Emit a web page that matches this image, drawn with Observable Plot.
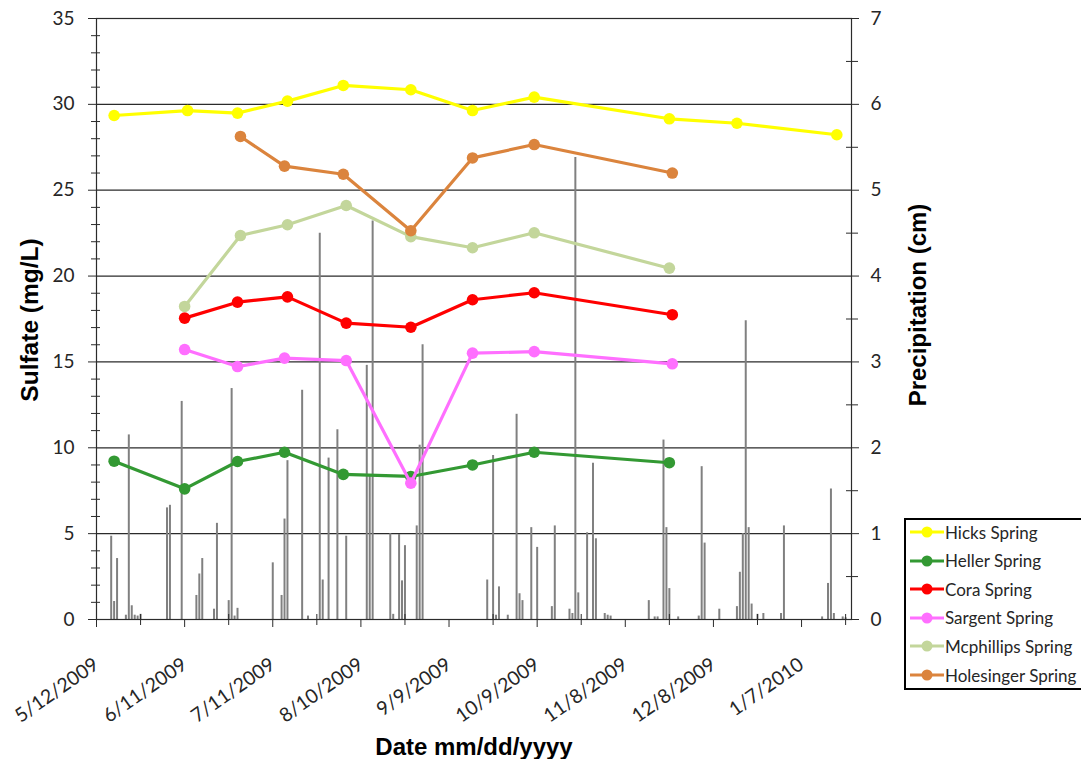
<!DOCTYPE html>
<html>
<head>
<meta charset="utf-8">
<script src="https://cdn.jsdelivr.net/npm/d3@7"></script>
<script src="https://cdn.jsdelivr.net/npm/@observablehq/plot@0.6"></script>
<style>
  html, body { margin: 0; padding: 0; background: #fff; }
  #wrap { position: relative; width: 1081px; height: 759px; overflow: hidden; }
  #legend { position: absolute; left: 904px; top: 518px; width: 190px; height: 172px;
    border: 2px solid #000; box-sizing: border-box; background: #fff;
    font-family: Lato, "Open Sans", sans-serif; font-size: 17px; color: #262626; }
  .row { position: absolute; left: 2px; height: 20px; display: flex; align-items: center; }
  .row svg { margin-right: 1px; }
</style>
</head>
<body>
<div id="wrap"><div id="chart"></div><div id="legend"></div></div>
<script>
// ---- Data ----
const seriesNames = ["Hicks Spring", "Heller Spring", "Cora Spring", "Sargent Spring", "Mcphillips Spring", "Holesinger Spring"];
const seriesColors = ["#FFFF00", "#339933", "#FF0000", "#FF6FFF", "#C3D69B", "#DB843D"];

const hicksDates = ["2009-05-18","2009-06-12","2009-06-29","2009-07-16","2009-08-04","2009-08-27","2009-09-17","2009-10-08","2009-11-23","2009-12-16","2010-01-19"];
const hicksSulfate = [29.35, 29.64, 29.49, 30.19, 31.1, 30.85, 29.64, 30.42, 29.16, 28.9, 28.23];

const hellerDates = ["2009-05-18","2009-06-11","2009-06-29","2009-07-15","2009-08-04","2009-08-27","2009-09-17","2009-10-08","2009-11-23"];
const hellerSulfate = [9.22, 7.61, 9.2, 9.74, 8.45, 8.33, 9.0, 9.74, 9.13];

const coraDates = ["2009-06-11","2009-06-29","2009-07-16","2009-08-05","2009-08-27","2009-09-17","2009-10-08","2009-11-24"];
const coraSulfate = [17.55, 18.48, 18.79, 17.26, 17.02, 18.62, 19.03, 17.75];

const sargentDates = ["2009-06-11","2009-06-29","2009-07-15","2009-08-05","2009-08-27","2009-09-17","2009-10-08","2009-11-24"];
const sargentSulfate = [15.72, 14.73, 15.22, 15.08, 7.94, 15.51, 15.6, 14.89];

const mcphillipsDates = ["2009-06-11","2009-06-30","2009-07-16","2009-08-05","2009-08-27","2009-09-17","2009-10-08","2009-11-23"];
const mcphillipsSulfate = [18.23, 22.36, 22.99, 24.11, 22.3, 21.65, 22.52, 20.46];

const holesingerDates = ["2009-06-30","2009-07-15","2009-08-04","2009-08-27","2009-09-17","2009-10-08","2009-11-24"];
const holesingerSulfate = [28.13, 26.4, 25.93, 22.64, 26.88, 27.66, 26.0];

const precipDates = ["2009-05-17","2009-05-18","2009-05-19","2009-05-22","2009-05-23","2009-05-24","2009-05-25","2009-05-26","2009-05-27",
  "2009-06-05","2009-06-06","2009-06-10","2009-06-15","2009-06-16","2009-06-17","2009-06-21","2009-06-22","2009-06-26","2009-06-27","2009-06-28","2009-06-29",
  "2009-07-11","2009-07-14","2009-07-15","2009-07-16","2009-07-21","2009-07-23","2009-07-27","2009-07-28","2009-07-30",
  "2009-08-02","2009-08-05","2009-08-12","2009-08-13","2009-08-14","2009-08-20","2009-08-21","2009-08-23","2009-08-24","2009-08-25","2009-08-29","2009-08-30","2009-08-31",
  "2009-09-22","2009-09-24","2009-09-25","2009-09-26","2009-09-29",
  "2009-10-02","2009-10-03","2009-10-04","2009-10-07","2009-10-09","2009-10-14","2009-10-15","2009-10-20","2009-10-21","2009-10-22","2009-10-23","2009-10-26","2009-10-28","2009-10-29",
  "2009-11-01","2009-11-02","2009-11-03","2009-11-16","2009-11-18","2009-11-19","2009-11-21","2009-11-22","2009-11-23","2009-11-26",
  "2009-12-03","2009-12-04","2009-12-05","2009-12-10","2009-12-16","2009-12-17","2009-12-18","2009-12-19","2009-12-20","2009-12-21","2009-12-23","2009-12-25","2009-12-31",
  "2010-01-01","2010-01-14","2010-01-16","2010-01-17","2010-01-18","2010-01-21","2010-01-22"];
const precipCm = [0.97,0.21,0.71,0.05,2.15,0.16,0.05,0.04,0.06,
  1.30,1.33,2.54,0.28,0.53,0.71,0.12,1.12,0.22,2.69,0.04,0.13,
  0.66,0.28,1.17,1.85,2.67,0.04,4.50,0.46,1.88,
  2.21,0.97,2.96,1.68,4.64,1.00,0.06,0.99,0.45,0.86,1.09,2.03,3.20,
  0.46,1.91,0.05,0.38,0.05,
  2.39,0.30,0.22,1.07,0.84,0.15,1.09,0.12,0.07,5.38,0.31,1.01,1.82,0.94,
  0.07,0.05,0.04,0.22,0.03,0.03,2.09,1.07,0.36,0.03,
  0.04,1.78,0.89,0.12,0.15,0.55,1.00,3.48,1.07,0.18,0.06,0.07,0.07,
  1.09,0.03,0.42,1.52,0.07,0.03,0.02];

const xDomain = ["2009-05-12", "2010-01-24"];
const xTickLabels = ["5/12/2009","6/11/2009","7/11/2009","8/10/2009","9/9/2009","10/9/2009","11/8/2009","12/8/2009","1/7/2010"];
const xMinorTickLabels = ["5/27/2009","6/26/2009","7/26/2009","8/25/2009","9/24/2009","10/24/2009","11/23/2009","12/23/2009","1/22/2010"];
const sulfateTicks = [0, 5, 10, 15, 20, 25, 30, 35];
const precipTicks = [0, 1, 2, 3, 4, 5, 6, 7];
const precipPerSulfate = 7 / 35;

// ---- Build ----
const parseISO = d3.utcParse("%Y-%m-%d");
const parseMDY = d3.utcParse("%m/%d/%Y");
const fmtMDY = d3.utcFormat("%-m/%-d/%Y");

const dateLists = [hicksDates, hellerDates, coraDates, sargentDates, mcphillipsDates, holesingerDates];
const valueLists = [hicksSulfate, hellerSulfate, coraSulfate, sargentSulfate, mcphillipsSulfate, holesingerSulfate];
const sulfate = [];
seriesNames.forEach((name, i) => {
  dateLists[i].forEach((d, j) => sulfate.push({series: name, date: parseISO(d), value: valueLists[i][j]}));
});
const precip = precipDates.map((d, i) => ({date: parseISO(d), cm: precipCm[i]}));

const xTicks = xTickLabels.map(parseMDY);
const xMinor = xMinorTickLabels.map(parseMDY);
const leftMinor = d3.range(0, 36, 1).filter(v => v % 5 !== 0);
const rightMajor = precipTicks.map(v => v / precipPerSulfate);
const rightMinor = precipTicks.slice(0, -1).map(v => (v + 0.5) / precipPerSulfate);

const font = "Lato, 'Open Sans', sans-serif";
const titleFont = "'Liberation Sans', Arial, sans-serif";
const tickColor = "#262626";

const marks = [
  Plot.ruleY([5, 10, 15, 20, 25, 30], {stroke: "#2b2b2b", strokeWidth: 1.2}),
  Plot.ruleX(precip, {x: "date", y1: 0, y2: d => d.cm / precipPerSulfate, stroke: "#808080", strokeWidth: 2}),
  Plot.frame({stroke: "#2b2b2b", strokeWidth: 1.2}),
  // left axis
  Plot.axisY(sulfateTicks, {anchor: "left", tickSize: 8, tickPadding: 14, fontSize: 19, fontFamily: font, color: tickColor, stroke: "#2b2b2b", label: null}),
  Plot.axisY(leftMinor, {anchor: "left", tickSize: 9, dx: 4, tickFormat: () => "", stroke: "#2b2b2b", label: null}),
  // right axis
  Plot.axisY(rightMajor, {anchor: "right", tickSize: 7, tickPadding: 12, tickFormat: d => Math.round(d * precipPerSulfate), fontSize: 19, fontFamily: font, color: tickColor, stroke: "#2b2b2b", label: null}),
  Plot.axisY(rightMinor, {anchor: "right", tickSize: 12, dx: -6, tickFormat: () => "", stroke: "#2b2b2b", label: null}),
  // bottom axis
  Plot.axisX(xTicks, {anchor: "bottom", tickSize: 8, tickPadding: 0, tickFormat: () => "", stroke: "#2b2b2b", label: null}),
  Plot.text(xTicks, {x: d => d, frameAnchor: "bottom", dy: 43, dx: 0, rotate: -35, textAnchor: "end", lineAnchor: "middle", text: fmtMDY, fontSize: 19.5, fontFamily: font, fill: tickColor}),
  Plot.axisX(xMinor, {anchor: "bottom", tickSize: 11, dy: -5, tickFormat: () => "", stroke: "#2b2b2b", label: null}),
];
seriesNames.forEach((name, i) => {
  const data = sulfate.filter(d => d.series === name);
  marks.push(Plot.line(data, {x: "date", y: "value", stroke: seriesColors[i], strokeWidth: 3.2}));
  marks.push(Plot.dot(data, {x: "date", y: "value", r: 5.8, fill: seriesColors[i], stroke: "none"}));
});
// titles
marks.push(Plot.text(["Sulfate (mg/L)"], {frameAnchor: "left", dx: -66, dy: 1, rotate: -90, textAnchor: "middle", fontSize: 24.5, fontWeight: "bold", fontFamily: titleFont, fill: "#000"}));
marks.push(Plot.text(["Precipitation (cm)"], {frameAnchor: "right", dx: 67, dy: -14, rotate: -90, textAnchor: "middle", fontSize: 24, fontWeight: "bold", fontFamily: titleFont, fill: "#000"}));
marks.push(Plot.text(["Date mm/dd/yyyy"], {frameAnchor: "bottom", dy: 135, fontSize: 24, fontWeight: "bold", fontFamily: titleFont, fill: "#000"}));

const chart = Plot.plot({
  width: 1081,
  height: 759,
  marginLeft: 96,
  marginRight: 230,
  marginTop: 18,
  marginBottom: 140,
  style: {background: "#fff", overflow: "visible"},
  x: {type: "utc", domain: xDomain.map(parseISO), axis: null},
  y: {domain: [0, 35], axis: null},
  marks
});
document.getElementById("chart").appendChild(chart);

// legend
const legend = document.getElementById("legend");
seriesNames.forEach((name, i) => {
  const row = document.createElement("div");
  row.className = "row";
  row.style.top = (2 + i * 28.6) + "px";
  row.innerHTML = `<svg width="36" height="20"><line x1="2" y1="10" x2="36" y2="10" stroke="${seriesColors[i]}" stroke-width="3.2"/><circle cx="19" cy="10" r="5.5" fill="${seriesColors[i]}"/></svg><span>${name}</span>`;
  legend.appendChild(row);
});
</script>
</body>
</html>
